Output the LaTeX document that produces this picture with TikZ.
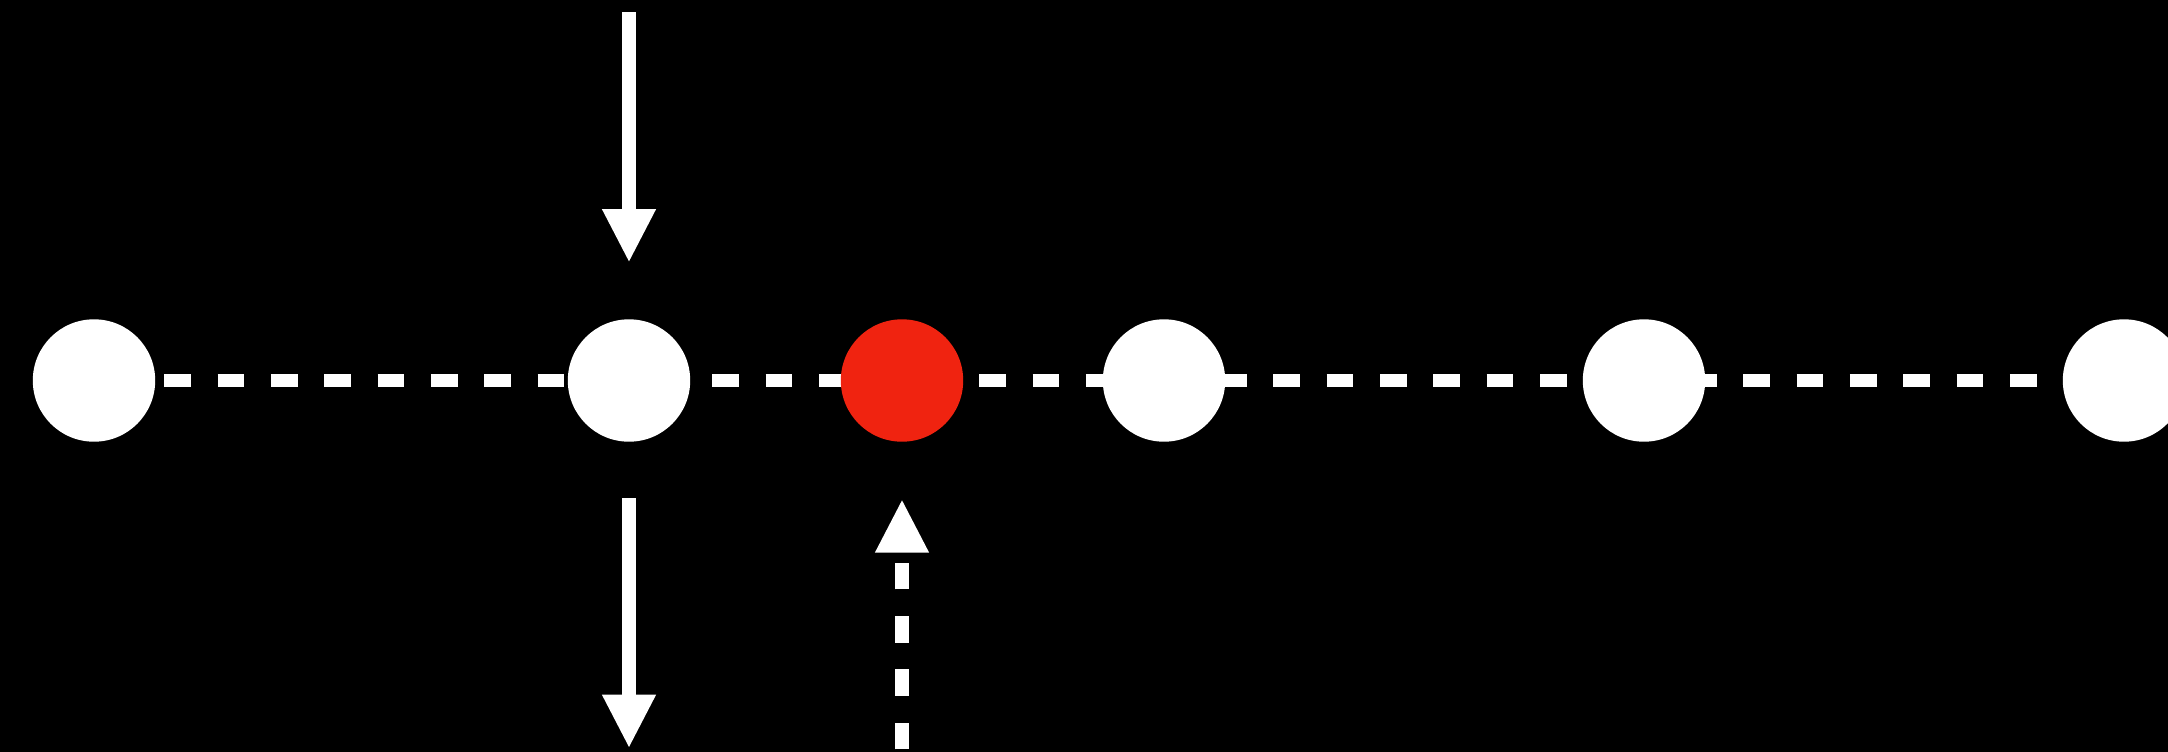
\documentclass[tikz,border=0pt]{standalone}
\usetikzlibrary{arrows.meta}
\definecolor{hotred}{RGB}{240,35,16}
\pgfdeclarelayer{bg}
\pgfsetlayers{bg,main}
\begin{document}
\begin{tikzpicture}[x=1pt,y=-1pt,
  dot/.style={circle,minimum size=122.4pt,inner sep=0pt,outer sep=0pt,draw=none,fill=white},
  reddot/.style={dot,fill=hotred},
  link/.style={white,line width=13.6pt,dash pattern=on 26.67pt off 26.67pt},
  arr/.style={white,line width=13.6pt,-{Triangle[length=53.7pt,width=50pt]}},
]
\useasboundingbox (0,0) rectangle (2168,752);
\node[dot] (c1) at (94,380.5) {};
\node[dot] (c2) at (629,380.5) {};
\node[reddot] (c3) at (902,380.5) {};
\node[dot] (c4) at (1164,380.5) {};
\node[dot] (c5) at (1644,380.5) {};
\node[dot] (c6) at (2124,380.5) {};
\coordinate (t) at (629,12.3);
\coordinate (b) at (629,748.3);
\coordinate (u) at (902,752);
\begin{pgfonlayer}{bg}
\fill[black] (0,0) rectangle (2168,752);
\draw[link,dash phase=36.4pt] (c1.center) -- (c2.center);
\draw[link,dash phase=23.4pt] (c2.center) -- (c3.center);
\draw[link,dash phase=29.4pt] (c3.center) -- (c4.center);
\draw[link,dash phase=50.7pt] (c4.center) -- (c5.center);
\draw[link,dash phase=7.5pt] (c5.center) -- (c6.center);
\end{pgfonlayer}
\draw[arr,shorten >=56.6pt] (t) -- (c2);
\draw[arr,shorten <=56.6pt] (c2) -- (b);
\draw[arr,dash pattern=on 26.67pt off 26.67pt,dash phase=50.66pt,shorten >=57.3pt] (u) -- (c3);
\end{tikzpicture}
\end{document}
